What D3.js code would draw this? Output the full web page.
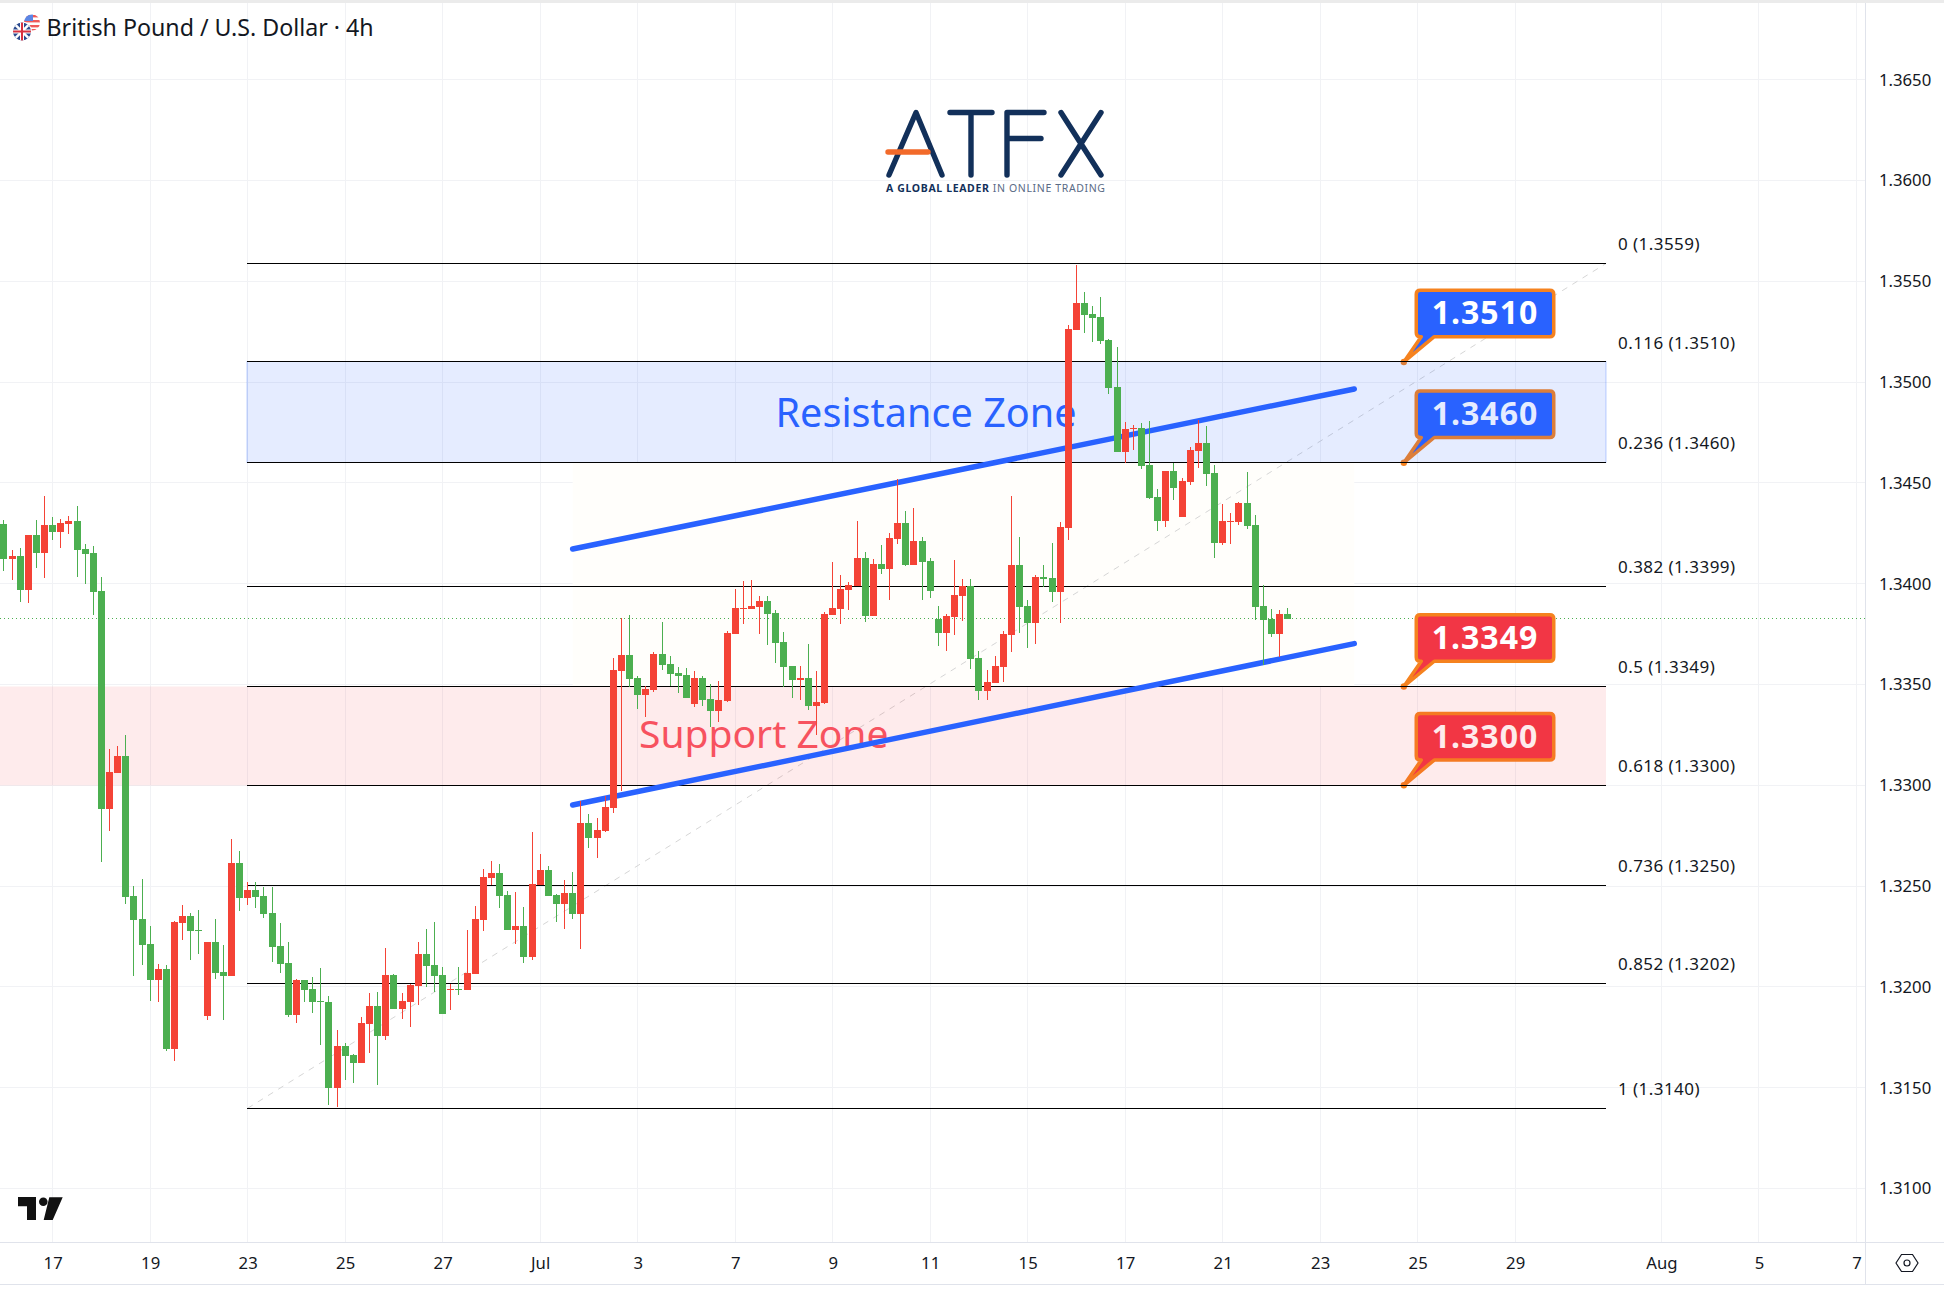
<!DOCTYPE html>
<html><head><meta charset="utf-8">
<script src="https://cdn.jsdelivr.net/npm/d3@7"></script>
<style>
html,body{margin:0;padding:0;background:#fff;overflow:hidden}
svg{display:block}
text{font-family:"Noto Sans",sans-serif}
</style></head><body>
<svg id="c" width="1944" height="1290" xmlns="http://www.w3.org/2000/svg"></svg>
<script>
const opens=[1.34296,1.34122,1.34137,1.33969,1.34241,1.34152,1.34291,1.34256,1.34296,1.34311,1.34172,1.34152,1.33964,1.32882,1.33061,1.33145,1.32451,1.32337,1.32213,1.32034,1.32089,1.31692,1.32317,1.32352,1.32282,1.31856,1.32223,1.32074,1.32054,1.32615,1.32441,1.32481,1.32451,1.32367,1.32203,1.32119,1.31861,1.32034,1.31990,1.31930,1.31925,1.31499,1.31707,1.31662,1.31623,1.31816,1.31905,1.31757,1.32059,1.31890,1.31925,1.32005,1.32163,1.32109,1.32059,1.31985,1.31990,1.31985,1.32064,1.32332,1.32540,1.32565,1.32456,1.32282,1.32302,1.32148,1.32505,1.32580,1.32456,1.32411,1.32466,1.32362,1.32813,1.32739,1.32773,1.32887,1.33567,1.33646,1.33532,1.33448,1.33473,1.33651,1.33602,1.33557,1.33547,1.33403,1.33532,1.33428,1.33369,1.33418,1.33751,1.33875,1.33875,1.33884,1.33914,1.33855,1.33711,1.33592,1.33522,1.33532,1.33393,1.33408,1.33845,1.33875,1.33969,1.33989,1.34128,1.33840,1.34098,1.34073,1.34222,1.34301,1.34093,1.34212,1.34113,1.33825,1.33756,1.33835,1.33939,1.33989,1.33632,1.33468,1.33508,1.33587,1.33746,1.34093,1.33889,1.33805,1.34033,1.34028,1.33959,1.34276,1.35258,1.35392,1.35338,1.35323,1.35209,1.34976,1.34653,1.34767,1.34772,1.34589,1.34430,1.34311,1.34559,1.34331,1.34504,1.34658,1.34698,1.34549,1.34202,1.34306,1.34306,1.34400,1.34291,1.33889,1.33825,1.33751,1.33850];
const highs=[1.34316,1.34167,1.34177,1.34241,1.34316,1.34435,1.34331,1.34321,1.34336,1.34385,1.34197,1.34187,1.34033,1.33180,1.33195,1.33249,1.32501,1.32535,1.32302,1.32114,1.32109,1.32327,1.32406,1.32367,1.32382,1.32223,1.32337,1.32208,1.32734,1.32674,1.32520,1.32520,1.32496,1.32496,1.32317,1.32223,1.32039,1.32034,1.32049,1.32094,1.31955,1.31786,1.31722,1.31667,1.31851,1.31970,1.31975,1.32193,1.32064,1.31970,1.32014,1.32223,1.32287,1.32322,1.32099,1.32014,1.32099,1.32282,1.32401,1.32585,1.32624,1.32610,1.32476,1.32471,1.32396,1.32768,1.32659,1.32600,1.32461,1.32530,1.32570,1.32922,1.32858,1.32838,1.32947,1.33631,1.33830,1.33845,1.33542,1.33493,1.33661,1.33810,1.33641,1.33587,1.33582,1.33567,1.33542,1.33502,1.33517,1.33765,1.33974,1.34013,1.34018,1.33939,1.33939,1.33870,1.33760,1.33592,1.33592,1.33701,1.33567,1.33860,1.34108,1.34043,1.34008,1.34311,1.34157,1.34123,1.34192,1.34252,1.34519,1.34361,1.34376,1.34232,1.34128,1.33889,1.33850,1.34118,1.34023,1.34023,1.33666,1.33572,1.33641,1.33765,1.34435,1.34232,1.33919,1.34043,1.34093,1.34202,1.34306,1.35283,1.35581,1.35447,1.35377,1.35422,1.35214,1.35174,1.34802,1.34787,1.34797,1.34807,1.34470,1.34559,1.34599,1.34524,1.34678,1.34812,1.34782,1.34589,1.34395,1.34351,1.34405,1.34554,1.34341,1.33994,1.33875,1.33870,1.33879];
const lows=[1.34063,1.34018,1.33909,1.33904,1.34078,1.34028,1.34217,1.34177,1.34246,1.34033,1.33998,1.33845,1.32621,1.32773,1.33061,1.32411,1.32054,1.32109,1.31930,1.31925,1.31682,1.31633,1.32233,1.32134,1.32163,1.31836,1.32039,1.31836,1.32054,1.32377,1.32406,1.32391,1.32342,1.32124,1.32069,1.31851,1.31821,1.31925,1.31871,1.31712,1.31414,1.31404,1.31538,1.31523,1.31623,1.31672,1.31513,1.31737,1.31890,1.31841,1.31801,1.31910,1.32000,1.31975,1.31866,1.31886,1.31960,1.31985,1.32064,1.32277,1.32505,1.32391,1.32282,1.32213,1.32119,1.32133,1.32505,1.32451,1.32322,1.32287,1.32337,1.32188,1.32689,1.32639,1.32768,1.32863,1.32972,1.33488,1.33378,1.33339,1.33463,1.33572,1.33493,1.33458,1.33433,1.33388,1.33393,1.33291,1.33314,1.33413,1.33751,1.33800,1.33875,1.33751,1.33696,1.33607,1.33488,1.33433,1.33423,1.33374,1.33250,1.33403,1.33845,1.33800,1.33870,1.33989,1.33810,1.33840,1.34048,1.33919,1.34197,1.34088,1.34093,1.33919,1.33929,1.33691,1.33666,1.33746,1.33815,1.33577,1.33423,1.33423,1.33508,1.33512,1.33661,1.33756,1.33681,1.33701,1.33984,1.33909,1.33805,1.34217,1.35258,1.35244,1.35199,1.35189,1.34941,1.34653,1.34599,1.34663,1.34569,1.34420,1.34261,1.34281,1.34415,1.34331,1.34490,1.34574,1.34485,1.34128,1.34192,1.34197,1.34291,1.34271,1.33820,1.33597,1.33736,1.33636,1.33825];
const closes=[1.34122,1.34137,1.33969,1.34241,1.34152,1.34291,1.34256,1.34301,1.34311,1.34167,1.34147,1.33959,1.32882,1.33066,1.33145,1.32446,1.32332,1.32208,1.32034,1.32089,1.31692,1.32322,1.32352,1.32277,1.32277,1.32223,1.32069,1.32054,1.32615,1.32441,1.32481,1.32446,1.32362,1.32198,1.32114,1.31861,1.32034,1.31985,1.31925,1.31925,1.31499,1.31707,1.31657,1.31623,1.31821,1.31905,1.31757,1.32059,1.31890,1.31930,1.32010,1.32163,1.32104,1.32054,1.31866,1.31990,1.31985,1.32069,1.32337,1.32545,1.32565,1.32451,1.32282,1.32302,1.32148,1.32510,1.32580,1.32451,1.32411,1.32466,1.32362,1.32813,1.32739,1.32778,1.32892,1.33572,1.33646,1.33527,1.33448,1.33478,1.33651,1.33597,1.33552,1.33542,1.33433,1.33532,1.33423,1.33369,1.33423,1.33755,1.33880,1.33880,1.33889,1.33914,1.33850,1.33706,1.33587,1.33522,1.33532,1.33393,1.33413,1.33850,1.33880,1.33974,1.33994,1.34128,1.33840,1.34098,1.34073,1.34227,1.34301,1.34093,1.34212,1.34108,1.33964,1.33756,1.33840,1.33944,1.33989,1.33627,1.33468,1.33512,1.33592,1.33751,1.34093,1.33884,1.33805,1.34033,1.34023,1.33959,1.34281,1.35263,1.35392,1.35333,1.35318,1.35204,1.34971,1.34653,1.34767,1.34772,1.34584,1.34425,1.34311,1.34559,1.34475,1.34509,1.34663,1.34698,1.34544,1.34202,1.34311,1.34311,1.34400,1.34286,1.33884,1.33820,1.33751,1.33850,1.33825];
const priceTicks=[1.31,1.315,1.32,1.325,1.33,1.335,1.34,1.345,1.35,1.355,1.36,1.365];
const timeTickBars=[6,18,30,42,54,66,78,90,102,114,126,138,150,162,174,186,204,216,228];
const timeTickLabels=["17","19","23","25","27","Jul","3","7","9","11","15","17","21","23","25","29","Aug","5","7"];
const fibRatios=["0","0.116","0.236","0.382","0.5","0.618","0.736","0.852","1"];
const fibPrices=[1.35589,1.35101,1.34602,1.33987,1.33491,1.33000,1.32504,1.32018,1.31398];
const fibFromBar=30, fibToBar=197.2;
const calloutPrices=[1.3510,1.3460,1.3349,1.3300];
const calloutLabels=["1.3510","1.3460","1.3349","1.3300"];
const calloutColors=["#2962ff","#2962ff","#f23645","#f23645"];
const channelUpper=[[70,1.34172],[166.2,1.34966]];
const channelLower=[[70,1.32902],[166.2,1.33703]];
const lastPrice=1.33828;
const titleText="British Pound / U.S. Dollar · 4h";

const W=1944,H=1290,plotR=1866,plotB=1242;
const x=d3.scaleLinear().domain([0,228]).range([3.9,1856.4]);
const y=d3.scaleLinear().domain([1.31,1.365]).range([1188.5,79.7]);
const svg=d3.select("#c");
const snap=v=>Math.floor(v)+0.5;

svg.append("rect").attr("width",W).attr("height",3).attr("fill","#ebebeb");

// grid
const gridCol="#f1f2f5";
svg.append("g").selectAll("line").data(priceTicks).join("line")
  .attr("x1",0).attr("x2",plotR).attr("y1",d=>snap(y(d))).attr("y2",d=>snap(y(d)))
  .attr("stroke",gridCol);
svg.append("g").selectAll("line").data(timeTickBars).join("line")
  .attr("x1",d=>Math.floor(x(d))+.5).attr("x2",d=>Math.floor(x(d))+.5).attr("y1",3).attr("y2",plotB)
  .attr("stroke",gridCol);

// pale channel background
svg.append("rect").attr("x",x(channelUpper[0][0])).attr("width",x(channelUpper[1][0])-x(channelUpper[0][0]))
  .attr("y",y(fibPrices[2])).attr("height",y(fibPrices[4])-y(fibPrices[2])).attr("fill","#fffefb");

// last price dotted
svg.append("line").attr("x1",0).attr("x2",plotR).attr("y1",snap(y(lastPrice))).attr("y2",snap(y(lastPrice)))
  .attr("stroke","#4caf50").attr("stroke-dasharray","1 3");

// fib trend diagonal
svg.append("line").attr("x1",x(fibFromBar)).attr("y1",y(fibPrices[8])).attr("x2",x(fibToBar)).attr("y2",y(fibPrices[0]))
  .attr("stroke","#d6d6d6").attr("stroke-dasharray","6 6");

// callouts (under the zones so the zones tint them)
const bx0=1416.25,bx1=1553.75,r=4,orange="#f5821f";
calloutPrices.forEach((p,i)=>{
  const ay=y(p),t=ay-71.75,b=ay-25.25,ax=x(172.3);
  svg.append("path").attr("d",
    `M${bx0+r},${t}H${bx1-r}Q${bx1},${t} ${bx1},${t+r}V${b-r}Q${bx1},${b} ${bx1-r},${b}H${bx0+18}L${ax},${ay}L${bx0+5},${b}H${bx0+r}Q${bx0},${b} ${bx0},${b-r}V${t+r}Q${bx0},${t} ${bx0+r},${t}Z`)
    .attr("fill",calloutColors[i]).attr("stroke",orange).attr("stroke-width",3.5).attr("stroke-linejoin","round");
  svg.append("circle").attr("cx",ax).attr("cy",ay).attr("r",3.2).attr("fill",orange);
  svg.append("text").attr("x",(bx0+bx1)/2).attr("y",(t+b)/2-1.5).attr("text-anchor","middle").attr("dominant-baseline","central")
    .attr("fill","#fff").attr("font-weight",700).attr("font-size",32).attr("letter-spacing",1).text(calloutLabels[i]);
});

// zones
svg.append("rect").attr("x",Math.floor(x(fibFromBar))).attr("width",1606-Math.floor(x(fibFromBar))).attr("y",snap(y(fibPrices[1]))).attr("height",Math.floor(y(fibPrices[2]))-Math.floor(y(fibPrices[1])))
  .attr("fill","rgba(41,98,255,0.12)").attr("stroke","rgba(41,98,255,0.3)");
svg.append("rect").attr("x",0).attr("width",1606).attr("y",snap(y(fibPrices[4]))).attr("height",Math.floor(y(fibPrices[5]))-Math.floor(y(fibPrices[4])))
  .attr("fill","rgba(242,54,69,0.1)");
svg.append("text").attr("x",775.5).attr("y",426.5).attr("font-size",39.6).attr("fill","#2962ff").text("Resistance Zone");
svg.append("text").attr("x",639).attr("y",748).attr("font-size",39).attr("fill","#f7525f").text("Support Zone");

// fib levels
svg.append("g").selectAll("line").data(fibPrices).join("line")
  .attr("x1",Math.floor(x(fibFromBar))).attr("x2",1606).attr("y1",d=>snap(y(d))).attr("y2",d=>snap(y(d)))
  .attr("stroke","#000").attr("stroke-width",1);
svg.append("g").selectAll("text").data(fibPrices).join("text")
  .attr("x",1618).attr("y",d=>y(d)-19.5).attr("dominant-baseline","central").attr("font-size",17).attr("letter-spacing",0.45).attr("fill","#131722")
  .text((d,i)=>`${fibRatios[i]} (${d.toFixed(4)})`);

// channel lines
[channelUpper,channelLower].forEach(seg=>{
  svg.append("path").attr("d",d3.line().x(d=>x(d[0])).y(d=>y(d[1]))(seg))
    .attr("stroke","#2962ff").attr("stroke-width",5.5).attr("stroke-linecap","round").attr("fill","none");
});

// candles
const candles=opens.map((o,i)=>({i,o,h:highs[i],l:lows[i],c:closes[i]}));
const col=d=>d.c>=d.o?"#f44336":"#4caf50";
svg.append("g").selectAll("rect").data(candles).join("rect")
  .attr("x",d=>Math.floor(x(d.i))).attr("width",1).attr("y",d=>Math.round(y(d.h)))
  .attr("height",d=>Math.max(1,Math.round(y(d.l))-Math.round(y(d.h)))).attr("fill",col);
svg.append("g").selectAll("rect").data(candles).join("rect")
  .attr("x",d=>Math.floor(x(d.i))-3).attr("width",7)
  .attr("y",d=>Math.round(y(Math.max(d.o,d.c))))
  .attr("height",d=>Math.max(1,Math.round(y(Math.min(d.o,d.c)))-Math.round(y(Math.max(d.o,d.c))))).attr("fill",col);

// axes
svg.append("rect").attr("x",plotR).attr("y",3).attr("width",W-plotR).attr("height",H-3).attr("fill","#fff");
svg.append("rect").attr("x",0).attr("y",plotB).attr("width",W).attr("height",H-plotB).attr("fill","#fff");
const ay=svg.append("g").attr("transform",`translate(${plotR},0)`)
  .call(d3.axisRight(y).tickValues(priceTicks).tickFormat(d3.format(".4f")).tickSize(0).tickPadding(13));
const ax=svg.append("g").attr("transform",`translate(0,${plotB})`)
  .call(d3.axisBottom(x).tickValues(timeTickBars).tickFormat((d,i)=>timeTickLabels[i]).tickSize(0).tickPadding(15));
[ay,ax].forEach(a=>{a.select(".domain").remove();a.selectAll("text").attr("font-size",16.7).attr("fill","#131722").style("font-family",'"Noto Sans",sans-serif');});
svg.append("line").attr("x1",0).attr("x2",W).attr("y1",plotB+.5).attr("y2",plotB+.5).attr("stroke","#e0e3eb");
svg.append("line").attr("x1",0).attr("x2",W).attr("y1",1284.5).attr("y2",1284.5).attr("stroke","#e0e3eb");
svg.append("line").attr("x1",plotR-.5).attr("x2",plotR-.5).attr("y1",3).attr("y2",1284).attr("stroke","#e0e3eb");

// settings icon
svg.append("path").attr("d","M1896,1263L1901.5,1254.5H1912.5L1918,1263L1912.5,1271.5H1901.5Z").attr("fill","none").attr("stroke","#131722").attr("stroke-width",1.2);
svg.append("circle").attr("cx",1907).attr("cy",1263).attr("r",3).attr("fill","none").attr("stroke","#131722").attr("stroke-width",1.2);

// TradingView mark
svg.append("path").attr("d","M18,1197H36V1220H27V1206.3H18ZM49.3,1197.3H62.7L52.7,1220H43.7Z").attr("fill","#111");
svg.append("circle").attr("cx",43.3).attr("cy",1201.7).attr("r",4.3).attr("fill","#111");

// title + flags
const defs=svg.append("defs");
defs.append("clipPath").attr("id","gb").append("circle").attr("cx",22).attr("cy",31.5).attr("r",9);
defs.append("clipPath").attr("id","us").append("circle").attr("cx",32).attr("cy",22.5).attr("r",8);
const us=svg.append("g").attr("clip-path","url(#us)");
us.append("rect").attr("x",24).attr("y",14).attr("width",16).attr("height",17).attr("fill","#fff");
[15,20,25,29].forEach(v=>us.append("rect").attr("x",24).attr("y",v).attr("width",16).attr("height",2.4).attr("fill","#ee5a5a"));
us.append("rect").attr("x",24).attr("y",14).attr("width",9).attr("height",7).attr("fill","#5b86e5");
svg.append("circle").attr("cx",22).attr("cy",31.5).attr("r",10).attr("fill","#fff");
const gb=svg.append("g").attr("clip-path","url(#gb)");
gb.append("rect").attr("x",12).attr("y",22).attr("width",20).attr("height",20).attr("fill","#2b4a8e");
gb.append("path").attr("d","M13,22.5L31,40.5M31,22.5L13,40.5").attr("stroke","#fff").attr("stroke-width",2.5);
gb.append("path").attr("d","M22,22V41M13,31.5H31").attr("stroke","#fff").attr("stroke-width",4);
gb.append("path").attr("d","M22,22V41M13,31.5H31").attr("stroke","#d8313f").attr("stroke-width",2);
svg.append("text").attr("x",46.5).attr("y",27).attr("dominant-baseline","central").attr("font-size",23.2).attr("fill","#131722").text(titleText);

// ATFX logo
const logo=svg.append("g").attr("stroke","#12305a").attr("stroke-width",5.4).attr("stroke-linecap","round").attr("stroke-linejoin","round").attr("fill","none");
logo.append("path").attr("d","M889,175L916,112.5L942,175");
logo.append("path").attr("d","M950,112.5H992M971,112.5V175");
logo.append("path").attr("d","M1007,175V112.5H1044M1007,138.5H1041");
logo.append("path").attr("d","M1061,112.5L1101,175M1101,112.5L1061,175");
svg.append("path").attr("d","M888,152H928").attr("stroke","#f26a2a").attr("stroke-width",5.4).attr("stroke-linecap","round");
const tag=svg.append("text").attr("x",886).attr("y",192).attr("font-size",10.5).attr("fill","#12305a").attr("textLength",219).attr("lengthAdjust","spacing");
tag.append("tspan").attr("font-weight",700).text("A GLOBAL LEADER ");
tag.append("tspan").attr("fill","#5a6b85").text("IN ONLINE TRADING");
</script>
</body></html>
